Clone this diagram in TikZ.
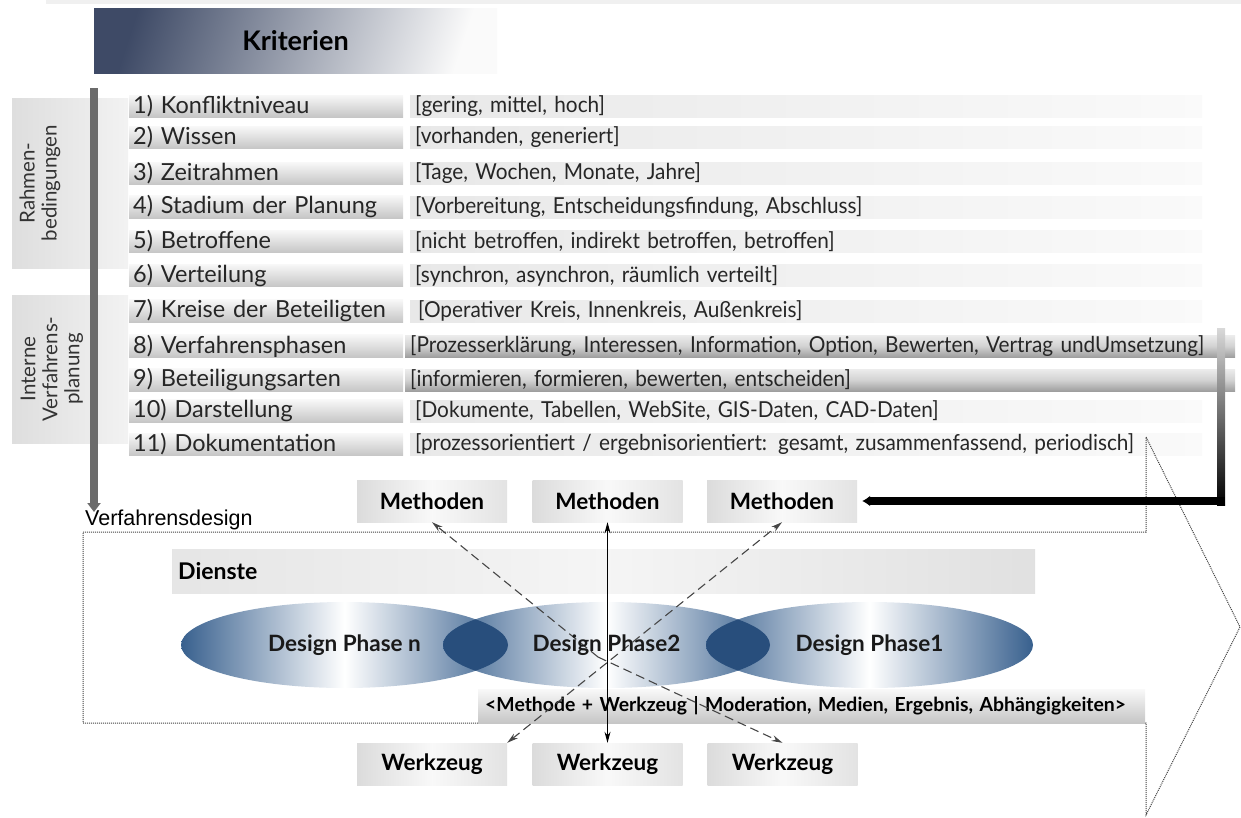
\documentclass[tikz,border=0pt]{standalone}
\usepackage{fontspec}
\setmainfont{Lato}
\newfontfamily\condfont[FakeStretch=0.945]{Lato}
\newfontfamily\arialfont{Liberation Sans}
\usetikzlibrary{positioning,calc,arrows.meta,shapes.geometric}

\definecolor{phaseblue}{RGB}{56,96,142}
\definecolor{lensblue}{RGB}{40,78,124}
\definecolor{kritdark}{RGB}{62,74,102}
\definecolor{dashgray}{RGB}{70,70,70}

\tikzset{
  rowlab/.style={anchor=west, minimum height=22pt, text width=266pt, inner xsep=4pt, inner ysep=0pt,
    align=left, top color=gray!6, bottom color=gray!45, text=black!85,
    font=\fontsize{23.5}{25}\selectfont},
  rowval/.style={anchor=west, minimum height=22pt, text width=782pt, inner xsep=5pt, inner ysep=0pt,
    align=left, left color=gray!18, right color=gray!4, text=black!85,
    font=\condfont\fontsize{22}{24}\selectfont},
  rowvaldark/.style={rowval, xshift=-5pt, text width=820pt,
    top color=gray!15, bottom color=gray!75, middle color=gray!35},
  toolbox/.style={minimum width=150pt, minimum height=42pt, inner sep=0pt,
    left color=gray!28, right color=gray!22, middle color=gray!5,
    font=\bfseries\fontsize{22.5}{24}\selectfont},
  phase/.style={ellipse, minimum width=327pt, minimum height=86pt, inner sep=0pt,
    left color=phaseblue, right color=phaseblue, middle color=white},
  phasetext/.style={font=\bfseries\fontsize{22.5}{24}\selectfont, text=black!90},
  sidebox/.style={anchor=north west, minimum width=116pt, inner sep=0pt,
    left color=gray!26, right color=gray!10},
  sidetext/.style={rotate=90, align=center, font=\fontsize{20.5}{22}\selectfont, text=black!80},
  dasharrow/.style={draw=dashgray, line width=1.1pt, dash pattern=on 9pt off 5pt,
    -{Stealth[length=11pt,width=6pt]}},
  dotframe/.style={draw=black!75, line width=1pt, dash pattern=on 1pt off 1pt}
}

\begin{document}
\begin{tikzpicture}[x=1pt,y=-1pt]
  \useasboundingbox (0,0) rectangle (1241,817);
  \fill[gray!12] (46,0) rectangle (1241,4);

  % Kopf
  \node[minimum width=403pt, minimum height=65pt, inner sep=0pt,
        top color=kritdark, bottom color=gray!4, shading angle=72,
        font=\bfseries\fontsize{27}{30}\selectfont] (krit) at (295.5,40.5) {Kriterien};

  % Seitenbloecke
  \node[sidebox, minimum height=170pt] (rbox) at (12,98) {};
  \node[sidebox, minimum height=148pt] (ibox) at (12,295) {};
  \node[sidetext] (rtext) at (40,183) {Rahmen-\\bedingungen};
  \node[sidetext] (itext) at (52,369) {Interne\\Verfahrens-\\planung};

  % Kriterienliste
  \foreach \n/\yy/\lab/\val/\vs in {
     1/106/{1) Konfliktniveau}/{[gering, mittel, hoch]}/rowval,
     2/137.5/{2) Wissen}/{[vorhanden, generiert]}/rowval,
     3/173.5/{3) Zeitrahmen}/{[Tage, Wochen, Monate, Jahre]}/rowval,
     4/207/{4) Stadium der Planung}/{[Vorbereitung, Entscheidungsfindung, Abschluss]}/rowval,
     5/241.5/{5) Betroffene}/{[nicht betroffen, indirekt betroffen, betroffen]}/rowval,
     6/275.5/{6) Verteilung}/{[synchron, asynchron, räumlich verteilt]}/rowval,
     7/311/{7) Kreise der Beteiligten}/{\hspace{3pt}[Operativer Kreis, Innenkreis, Außenkreis]}/rowval,
     8/346/{8) Verfahrensphasen}/{[Prozesserklärung, Interessen, Information, Option, Bewerten, Vertrag undUmsetzung]}/rowvaldark,
     9/380/{9) Beteiligungsarten}/{[informieren, formieren, bewerten, entscheiden]}/rowvaldark,
     10/411/{10) Darstellung}/{[Dokumente, Tabellen, WebSite, GIS-Daten, CAD-Daten]}/rowval,
     11/444.5/{11) Dokumentation}/{[prozessorientiert / ergebnisorientiert: gesamt, zusammenfassend, periodisch]}/rowval}
  {
    \node[rowlab] (lab\n) at (129,\yy) {\lab};
    \node[\vs] (val\n) at (410,\yy) {\val};
  }

  % linker Pfeil
  \coordinate (lbtop) at (94,88);
  \coordinate (lbend) at (94,512);
  \draw[line width=8pt, draw=black!58, -{Triangle[length=9pt,width=13pt]}] (lbtop) -- (lbend);
  \node[anchor=west, inner sep=0pt, font=\arialfont\fontsize{21.5}{24}\selectfont] (vd) at (85,520) {Verfahrensdesign};

  % Methoden
  \node[toolbox] (m1) at (432,501) {Methoden};
  \node[toolbox] (m2) at (607.5,501) {Methoden};
  \node[toolbox] (m3) at (782,501) {Methoden};

  % Rahmen (Pfeilform)
  \draw[dotframe] (83,532) -- (1146,532) -- (1146,437) -- (1240,627)
        -- (1146,815) -- (1146,723) -- (83,723) -- cycle;

  % Rueckfuehrung
  \shade[top color=gray!30, bottom color=black] (1217,328) rectangle (1225,505);
  \coordinate (fbend) at (1225,501);
  \draw[line width=8pt, shorten >=5pt, -{Latex[length=8pt,width=11pt]}] (fbend) -- (m3.east);

  % Dienste und Leiste
  \node[anchor=west, minimum height=44pt, text width=851pt, inner xsep=6pt, inner ysep=0pt,
        left color=gray!20, right color=gray!24, middle color=gray!8,
        font=\bfseries\fontsize{23}{24}\selectfont] (dienste) at (172,571) {Dienste};
  \node[anchor=west, minimum height=34pt, text width=653pt, inner xsep=7pt, inner ysep=0pt,
        top color=gray!5, bottom color=gray!45,
        font=\bfseries\fontsize{19.4}{22}\selectfont] (mwbar) at (478,706)
        {<Methode + Werkzeug | Moderation, Medien, Ergebnis, Abhängigkeiten>};

  % Phasen
  \node[phase] (phn) at (344.5,645) {};
  \node[phase] (ph2) at (606.5,645) {};
  \node[phase] (ph1) at (869.5,645) {};
  \begin{scope}
    \clip (phn.center) ellipse [x radius=163.5, y radius=43];
    \fill[lensblue] (ph2.center) ellipse [x radius=163.5, y radius=43];
  \end{scope}
  \begin{scope}
    \clip (ph2.center) ellipse [x radius=163.5, y radius=43];
    \fill[lensblue] (ph1.center) ellipse [x radius=163.5, y radius=43];
  \end{scope}

  % Werkzeuge
  \node[toolbox] (w1) at (432,764) {Werkzeug};
  \node[toolbox] (w2) at (607.5,764) {Werkzeug};
  \node[toolbox] (w3) at (782.5,764) {Werkzeug};

  % Verbindungen
  \coordinate (hub) at (598,657);
  \draw[dasharrow] (hub) -- (m1.south);
  \draw[dasharrow] (hub) -- (w3.north);
  \draw[dasharrow, {Stealth[length=11pt,width=6pt]}-{Stealth[length=11pt,width=6pt]}] (w1.north east) -- (m3.south);
  \draw[line width=1pt, {Stealth[length=11pt,width=6pt]}-{Stealth[length=11pt,width=6pt]}] (m2.south) -- (w2.north);

  \node[phasetext] (tn) at (phn) {Design Phase n};
  \node[phasetext] (t2) at (ph2) {Design Phase2};
  \node[phasetext] (t1) at (ph1) {Design Phase1};
\end{tikzpicture}
\end{document}
